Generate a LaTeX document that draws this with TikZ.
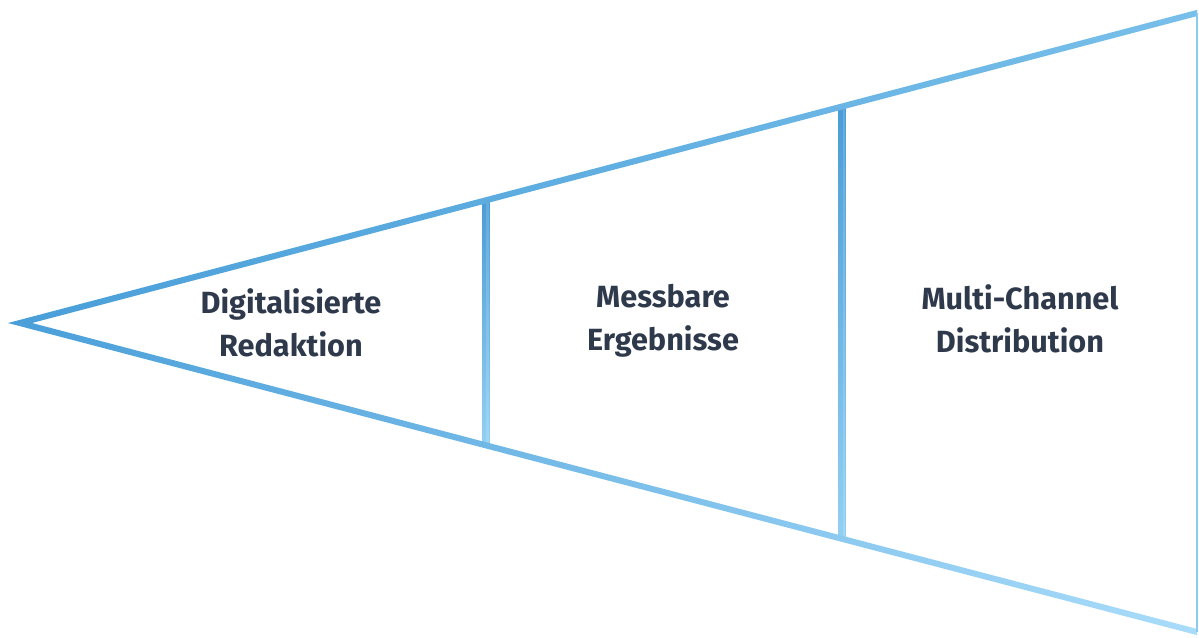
\documentclass[tikz,border=0pt]{standalone}
\usepackage{fontspec}
\setmainfont{Fira Sans}
\usepackage{tikz}
\usetikzlibrary{calc,positioning}

\definecolor{funnelDark}{HTML}{4A9FD9}
\definecolor{funnelTop}{HTML}{78BFEA}
\definecolor{funnelBottom}{HTML}{A9DCFA}
\definecolor{divDark}{HTML}{4B9CD6}
\definecolor{divLight}{HTML}{92D0F3}
\definecolor{labelText}{HTML}{2E3A4B}

\begin{document}
\begin{tikzpicture}[
			x=0.75pt, y=-0.75pt,
			% Styles
			stage/.style={align=center, text=labelText, font=\fontsize{23}{32}\selectfont\bfseries, inner sep=0pt},
			edge/.style={draw=none},
			divider/.style={draw=none}
		]
		\useasboundingbox (0,0) rectangle (1199,637);

		% --- 1. HOEKPUNTEN VAN DE TRECHTER ---
		\coordinate (apex) at (20,323);
		\coordinate (tr) at (1197,13);
		\coordinate (br) at (1197,632);

		% --- 2. SCHEIDINGSLIJNEN ---
		\foreach \t/\nm in {0.3959/one, 0.6984/two} {
				\coordinate (\nm top) at ($(apex)!\t!(tr)$);
				\coordinate (\nm bot) at ($(apex)!\t!(br)$);
				\shade[divider, top color=divDark, bottom color=divLight]
				($(\nm top)+(-3.3,0)$) rectangle ($(\nm bot)+(3.3,0)$);
				\fill[white, opacity=0.15] ($(\nm top)+(0.5,0)$) rectangle ($(\nm bot)+(3.3,0)$);
			}

		% --- 3. RANDEN (MET KLEURVERLOOP) ---
		\shade[edge, left color=funnelDark, right color=funnelTop]
		($(apex)+(-12,0)$) -- ($(tr)+(0,-3.1)$) -- ($(tr)+(0,3.1)$) -- ($(apex)+(12,0)$) -- cycle;
		\shade[edge, left color=funnelDark, right color=funnelBottom]
		($(apex)+(-12,0)$) -- ($(br)+(0,3.1)$) -- ($(br)+(0,-3.1)$) -- ($(apex)+(12,0)$) -- cycle;
		\draw[funnelTop!60!funnelBottom, line width=1.2pt] (tr) -- (br);

		% --- 4. LABELS ---
		\node[stage] (redaktion) at (291,323) {Digitalisierte\\Redaktion};
		\node[stage] (ergebnisse) at (663,321) {Messbare\\Ergebnisse};
		\node[stage] (distribution) at (1020,319) {Multi-Channel\\Distribution};

	\end{tikzpicture}
\end{document}
